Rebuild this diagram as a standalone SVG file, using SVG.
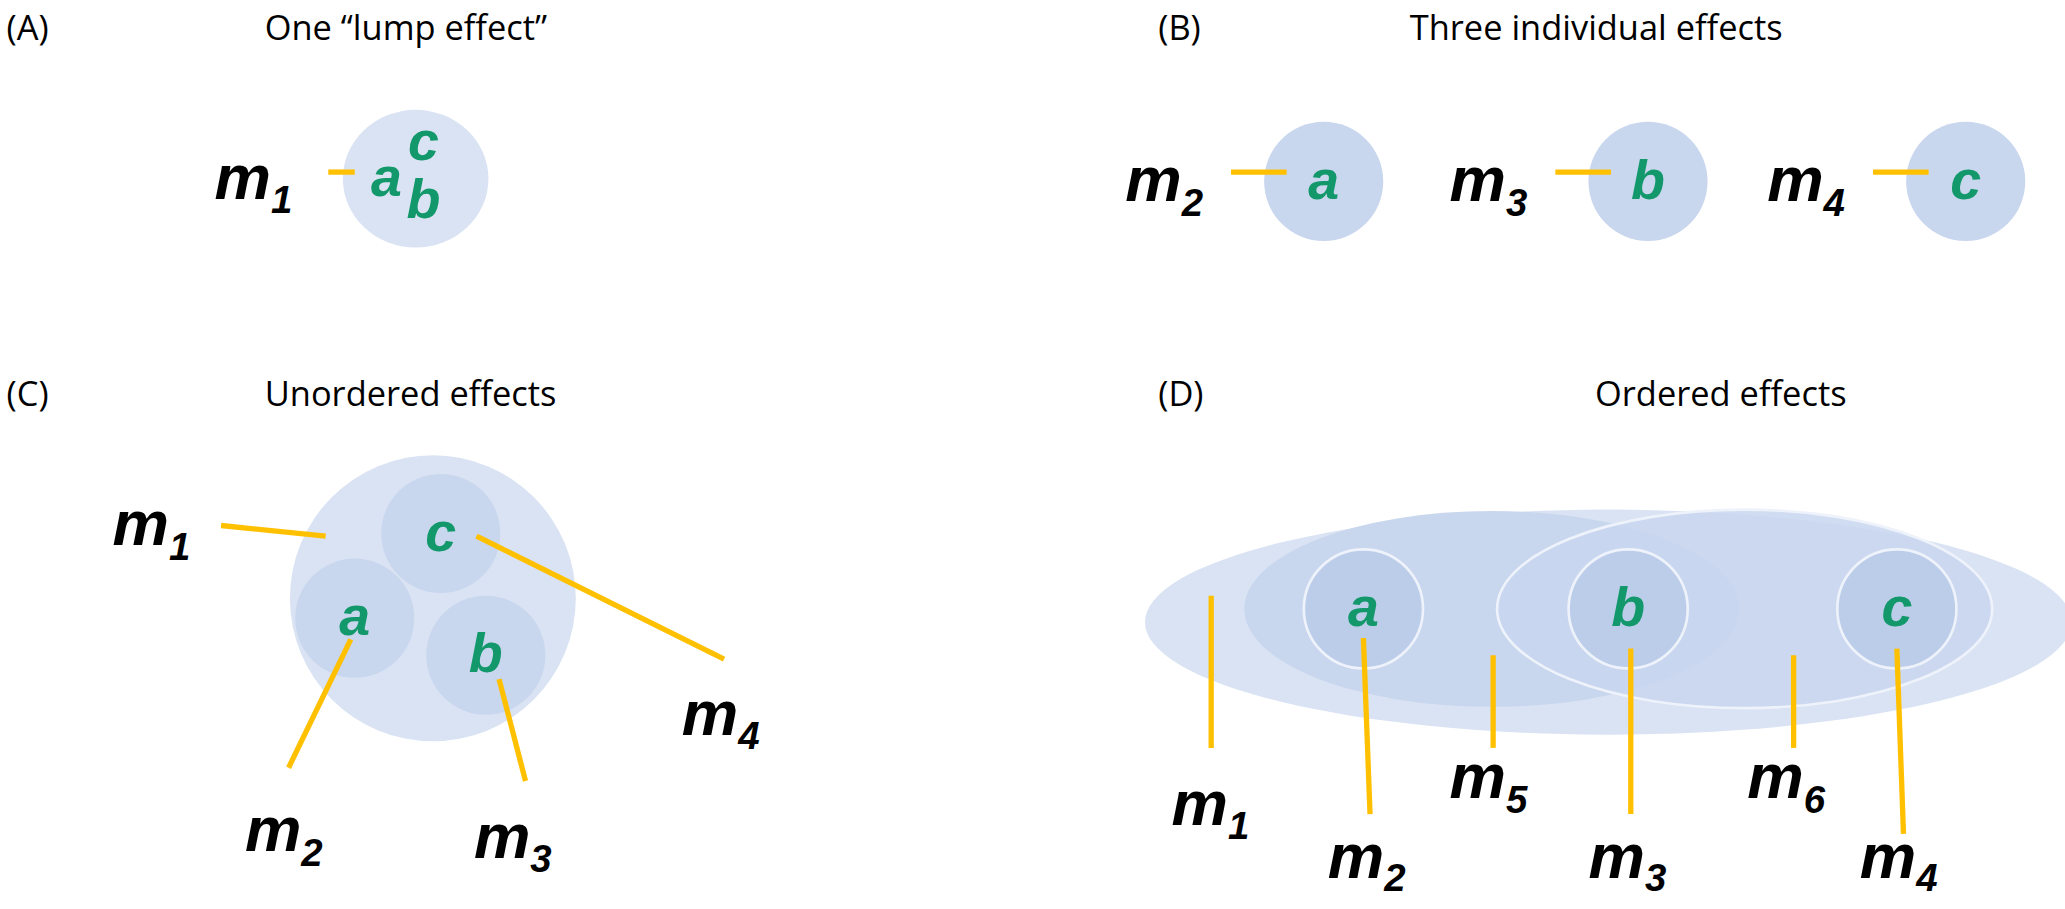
<svg xmlns="http://www.w3.org/2000/svg" width="2065" height="909" viewBox="0 0 2065 909">
<style>
.t{font-family:"Open Sans","Liberation Sans",sans-serif;font-size:26px;fill:#000}
.m{font-family:"Liberation Sans",sans-serif;font-size:48px;font-weight:bold;font-style:italic;fill:#000}
.s{font-size:29px}
.g{font-family:"Liberation Sans",sans-serif;font-size:42px;font-weight:bold;font-style:italic;fill:#12986a;text-anchor:middle}
.l{stroke:#ffc000;stroke-width:4;fill:none}
.c1{fill:#dae3f3}
.c2{fill:#c8d6ee}
.c3{fill:#bccdea}
.w{stroke:#eef2fa;stroke-width:2}
</style>
<rect width="2065" height="909" fill="#fff"/>
<g transform="scale(1.3237)">
<g id="titles">
<text class="t" x="5" y="30">(A)</text>
<text class="t" x="200" y="30">One “lump effect”</text>
<text class="t" x="875" y="30">(B)</text>
<text class="t" x="1065" y="30">Three individual effects</text>
<text class="t" x="5" y="307">(C)</text>
<text class="t" x="200" y="307">Unordered effects</text>
<text class="t" x="875" y="307">(D)</text>
<text class="t" x="1205" y="307">Ordered effects</text>
</g>
<g id="shapes">
<ellipse class="c1" cx="314" cy="135" rx="55" ry="52"/>
<circle class="c2" cx="1000" cy="137" r="45"/>
<circle class="c2" cx="1245" cy="137" r="45"/>
<circle class="c2" cx="1485" cy="137" r="45"/>
<circle class="c1" cx="327" cy="452" r="108"/>
<circle class="c2" cx="333" cy="403" r="45"/>
<circle class="c2" cx="268" cy="467" r="45"/>
<circle class="c2" cx="367" cy="495" r="45"/>
<ellipse class="c1" cx="1215" cy="470" rx="350" ry="85"/>
<ellipse class="c2" cx="1127" cy="460" rx="187" ry="74"/>
<ellipse class="c2 w" cx="1318" cy="460" rx="187" ry="75" fill-opacity="0.85"/>
<circle class="c3 w" cx="1030" cy="460" r="45"/>
<circle class="c3 w" cx="1230" cy="460" r="45"/>
<circle class="c3 w" cx="1433" cy="460" r="45"/>
</g>
<g id="connectors">
<line class="l" x1="248" y1="130" x2="268" y2="130"/>
<line class="l" x1="930" y1="130" x2="972" y2="130"/>
<line class="l" x1="1175" y1="130" x2="1217" y2="130"/>
<line class="l" x1="1415" y1="130" x2="1457" y2="130"/>
<line class="l" x1="167" y1="397" x2="246" y2="405"/>
<line class="l" x1="360" y1="405" x2="547" y2="498"/>
<line class="l" x1="265" y1="483" x2="218" y2="580"/>
<line class="l" x1="377" y1="513" x2="397" y2="590"/>
<line class="l" x1="915" y1="450" x2="915" y2="565"/>
<line class="l" x1="1030" y1="482" x2="1035" y2="615"/>
<line class="l" x1="1128" y1="495" x2="1128" y2="565"/>
<line class="l" x1="1232" y1="490" x2="1232" y2="615"/>
<line class="l" x1="1355" y1="495" x2="1355" y2="565"/>
<line class="l" x1="1433" y1="490" x2="1438" y2="630"/>
</g>
<g id="labels">
<text class="m" x="162" y="150">m<tspan class="s" dy="11">1</tspan></text>
<text class="g" x="292" y="148">a</text>
<text class="g" x="320" y="121">c</text>
<text class="g" x="320" y="165">b</text>
<text class="m" x="850" y="152">m<tspan class="s" dy="11">2</tspan></text>
<text class="g" x="1000" y="150">a</text>
<text class="m" x="1095" y="152">m<tspan class="s" dy="11">3</tspan></text>
<text class="g" x="1245" y="150">b</text>
<text class="m" x="1335" y="152">m<tspan class="s" dy="11">4</tspan></text>
<text class="g" x="1485" y="150">c</text>
<text class="m" x="85" y="412">m<tspan class="s" dy="11">1</tspan></text>
<text class="g" x="333" y="416">c</text>
<text class="g" x="268" y="480">a</text>
<text class="g" x="367" y="508">b</text>
<text class="m" x="515" y="555">m<tspan class="s" dy="11">4</tspan></text>
<text class="m" x="185" y="643">m<tspan class="s" dy="11">2</tspan></text>
<text class="m" x="358" y="648">m<tspan class="s" dy="11">3</tspan></text>
<text class="g" x="1030" y="473">a</text>
<text class="g" x="1230" y="473">b</text>
<text class="g" x="1433" y="473">c</text>
<text class="m" x="885" y="623">m<tspan class="s" dy="11">1</tspan></text>
<text class="m" x="1003" y="663">m<tspan class="s" dy="10">2</tspan></text>
<text class="m" x="1095" y="603">m<tspan class="s" dy="11">5</tspan></text>
<text class="m" x="1200" y="663">m<tspan class="s" dy="10">3</tspan></text>
<text class="m" x="1320" y="603">m<tspan class="s" dy="11">6</tspan></text>
<text class="m" x="1405" y="663">m<tspan class="s" dy="10">4</tspan></text>
</g>
</g>
</svg>
